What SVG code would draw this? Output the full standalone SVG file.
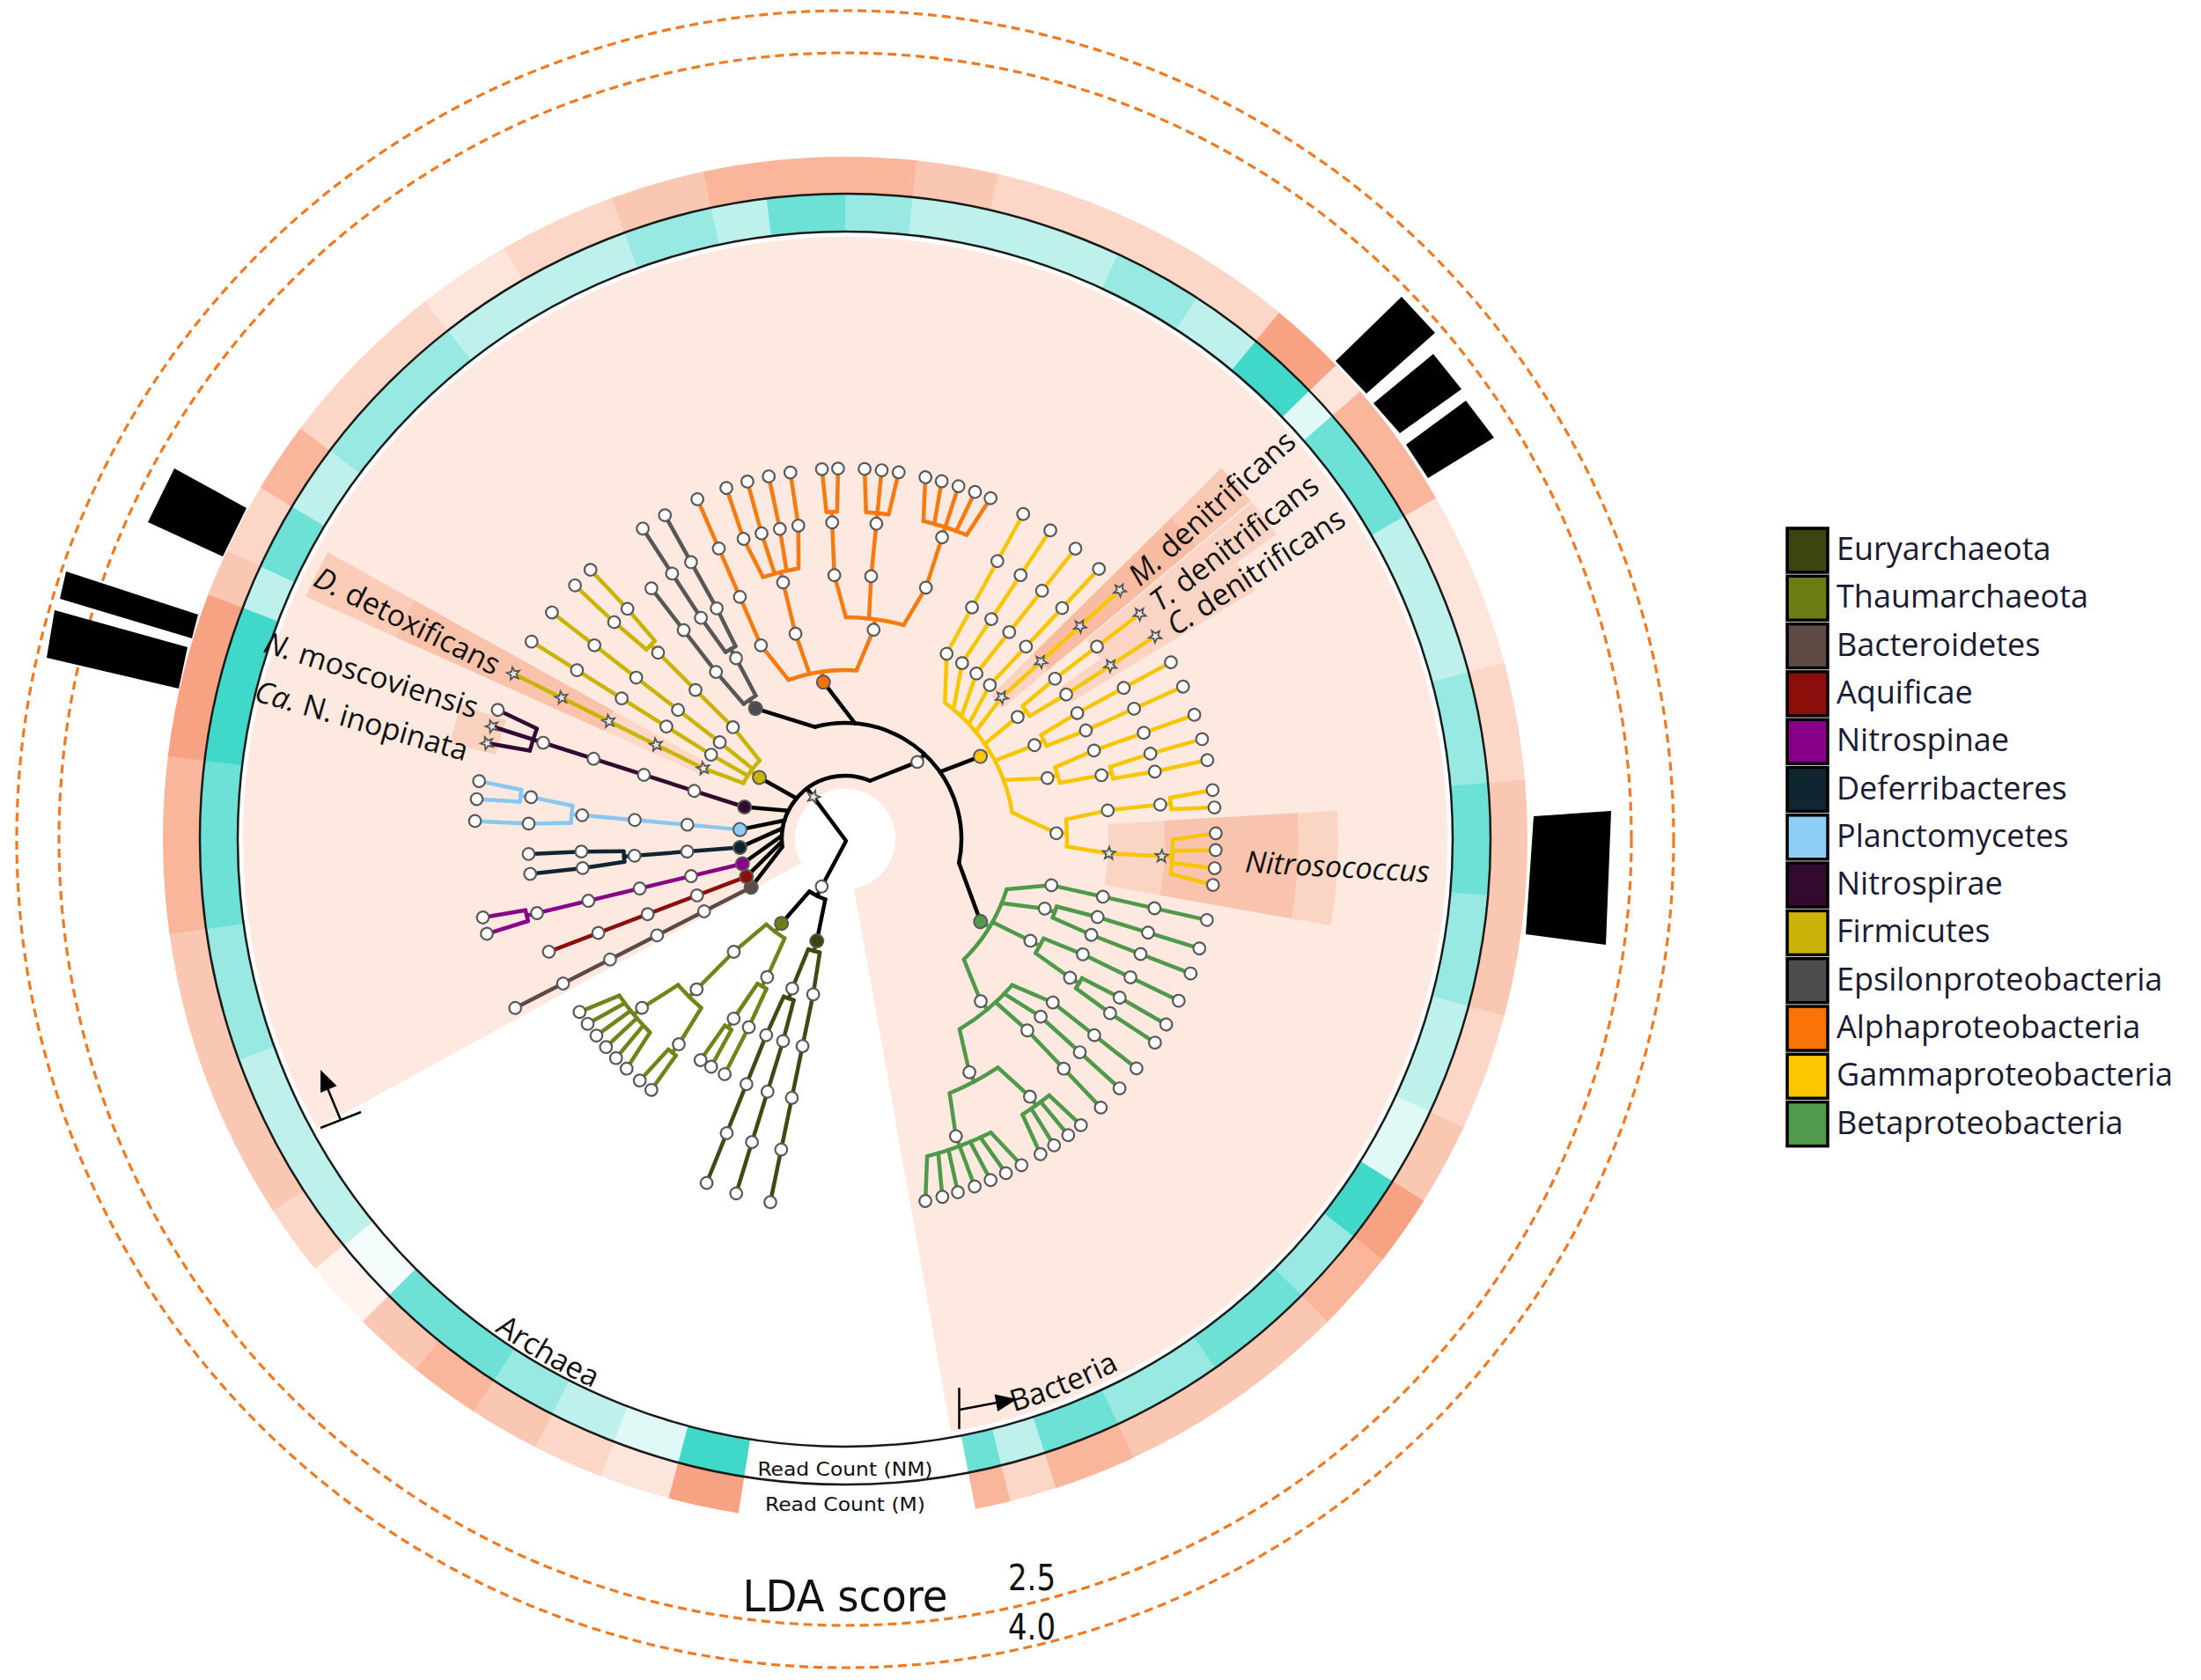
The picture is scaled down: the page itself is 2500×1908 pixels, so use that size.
<svg xmlns="http://www.w3.org/2000/svg" width="2500" height="1908" viewBox="0 0 2500 1908">
<style>
.lb{font-family:"Open Sans","Liberation Sans",sans-serif;font-size:34px;fill:#111}
.lg{font-family:"Open Sans","Liberation Sans",sans-serif;font-size:36px;fill:#1a1a33}
.dv{font-family:"DejaVu Sans Condensed","DejaVu Sans",sans-serif;fill:#111}
.rt{fill:none;stroke-width:43}
.rs{fill:none;stroke-width:42}
.cn{stroke:#595959;stroke-width:2}
.dash{fill:none;stroke:#f07a22;stroke-width:3.2;stroke-dasharray:10 6}
</style>
<defs>
<circle id="w" r="6.8" fill="#fff" stroke="#595959" stroke-width="2.2"/>
<path id="st" d="M0,-7.5L1.88,-2.59L7.13,-2.32L3.04,0.99L4.41,6.07L0,3.2L-4.41,6.07L-3.04,0.99L-7.13,-2.32L-1.88,-2.59Z" fill="#e6e6e6" stroke="#555" stroke-width="1.8"/>
<path id="pA" d="M-485.1,485.1A686,686 0 0 0 -119.1,675.6"/>
<path id="pB" d="M117.7,667.7A678,678 0 0 0 435.8,519.4"/>
</defs>
<rect width="2500" height="1908" fill="#fff"/>

<g id="background" transform="translate(960 953)">
<circle r="370.5" fill="none" stroke="#fde9e0" stroke-width="627" pathLength="360" stroke-dasharray="288.6 400" transform="rotate(151.3)"/>
<g id="highlights" fill="none">
<circle r="237.5" stroke="#fcd8c8" stroke-width="125" pathLength="360" stroke-dasharray="4.8 400" transform="rotate(204.2)"/>
<circle r="430" stroke="#f9c2aa" stroke-width="260" pathLength="360" stroke-dasharray="4.8 400" transform="rotate(204.2)"/>
<circle r="616" stroke="#fbcdb9" stroke-width="112" pathLength="360" stroke-dasharray="4.8 400" transform="rotate(204.2)"/>
<circle r="435" stroke="#fad0be" stroke-width="54" pathLength="360" stroke-dasharray="5.7 400" transform="rotate(193.6)"/>
<circle r="266" stroke="#fbd3c2" stroke-width="68" pathLength="360" stroke-dasharray="4.8 400" transform="rotate(315.4)"/>
<circle r="410" stroke="#f8bca2" stroke-width="220" pathLength="360" stroke-dasharray="4.8 400" transform="rotate(315.4)"/>
<circle r="560" stroke="#fac9b4" stroke-width="80" pathLength="360" stroke-dasharray="4.8 400" transform="rotate(315.4)"/>
<circle r="477.5" stroke="#fad5c5" stroke-width="245" pathLength="360" stroke-dasharray="4.4 400" transform="rotate(320.4)"/>
<circle r="422.5" stroke="#fad5c5" stroke-width="245" pathLength="360" stroke-dasharray="4 400" transform="rotate(324.8)"/>
<circle r="331" stroke="#fbd5c4" stroke-width="64" pathLength="360" stroke-dasharray="13.4 400" transform="rotate(356.7)"/>
<circle r="439" stroke="#f8c4ad" stroke-width="152" pathLength="360" stroke-dasharray="13.4 400" transform="rotate(356.7)"/>
<circle r="537.5" stroke="#fbd5c4" stroke-width="45" pathLength="360" stroke-dasharray="13.4 400" transform="rotate(356.7)"/>
</g>
</g>

<g id="ring-nm" transform="translate(960 953)">
<circle class="rt" r="711.5" pathLength="360" stroke="#40d8c8" stroke-dasharray="6.15 400" transform="rotate(99)"/>
<circle class="rt" r="711.5" pathLength="360" stroke="#e0f9f6" stroke-dasharray="6.15 400" transform="rotate(105)"/>
<circle class="rt" r="711.5" pathLength="360" stroke="#bff1ec" stroke-dasharray="6.15 400" transform="rotate(111)"/>
<circle class="rt" r="711.5" pathLength="360" stroke="#97e9e1" stroke-dasharray="6.15 400" transform="rotate(117)"/>
<circle class="rt" r="711.5" pathLength="360" stroke="#6de1d5" stroke-dasharray="12.15 400" transform="rotate(123)"/>
<circle class="rt" r="711.5" pathLength="360" stroke="#f4fcfb" stroke-dasharray="6.15 400" transform="rotate(135)"/>
<circle class="rt" r="711.5" pathLength="360" stroke="#bff1ec" stroke-dasharray="19.15 400" transform="rotate(141)"/>
<circle class="rt" r="711.5" pathLength="360" stroke="#97e9e1" stroke-dasharray="12.15 400" transform="rotate(160)"/>
<circle class="rt" r="711.5" pathLength="360" stroke="#6de1d5" stroke-dasharray="15.15 400" transform="rotate(172)"/>
<circle class="rt" r="711.5" pathLength="360" stroke="#40d8c8" stroke-dasharray="14.15 400" transform="rotate(187)"/>
<circle class="rt" r="711.5" pathLength="360" stroke="#bff1ec" stroke-dasharray="4.15 400" transform="rotate(201)"/>
<circle class="rt" r="711.5" pathLength="360" stroke="#6de1d5" stroke-dasharray="6.15 400" transform="rotate(205)"/>
<circle class="rt" r="711.5" pathLength="360" stroke="#bff1ec" stroke-dasharray="6.15 400" transform="rotate(211)"/>
<circle class="rt" r="711.5" pathLength="360" stroke="#97e9e1" stroke-dasharray="15.15 400" transform="rotate(217)"/>
<circle class="rt" r="711.5" pathLength="360" stroke="#bff1ec" stroke-dasharray="18.15 400" transform="rotate(232)"/>
<circle class="rt" r="711.5" pathLength="360" stroke="#97e9e1" stroke-dasharray="8.15 400" transform="rotate(250)"/>
<circle class="rt" r="711.5" pathLength="360" stroke="#bff1ec" stroke-dasharray="5.15 400" transform="rotate(258)"/>
<circle class="rt" r="711.5" pathLength="360" stroke="#6de1d5" stroke-dasharray="7.15 400" transform="rotate(263)"/>
<circle class="rt" r="711.5" pathLength="360" stroke="#97e9e1" stroke-dasharray="6.15 400" transform="rotate(270)"/>
<circle class="rt" r="711.5" pathLength="360" stroke="#bff1ec" stroke-dasharray="19.15 400" transform="rotate(276)"/>
<circle class="rt" r="711.5" pathLength="360" stroke="#97e9e1" stroke-dasharray="8.15 400" transform="rotate(295)"/>
<circle class="rt" r="711.5" pathLength="360" stroke="#bff1ec" stroke-dasharray="6.65 400" transform="rotate(303)"/>
<circle class="rt" r="711.5" pathLength="360" stroke="#40d8c8" stroke-dasharray="6.65 400" transform="rotate(309.5)"/>
<circle class="rt" r="711.5" pathLength="360" stroke="#e0f9f6" stroke-dasharray="3.15 400" transform="rotate(316)"/>
<circle class="rt" r="711.5" pathLength="360" stroke="#6de1d5" stroke-dasharray="11.15 400" transform="rotate(319)"/>
<circle class="rt" r="711.5" pathLength="360" stroke="#bff1ec" stroke-dasharray="15.15 400" transform="rotate(330)"/>
<circle class="rt" r="711.5" pathLength="360" stroke="#97e9e1" stroke-dasharray="10.15 400" transform="rotate(345)"/>
<circle class="rt" r="711.5" pathLength="360" stroke="#6de1d5" stroke-dasharray="10.15 400" transform="rotate(355)"/>
<circle class="rt" r="711.5" pathLength="360" stroke="#97e9e1" stroke-dasharray="10.15 400" transform="rotate(5)"/>
<circle class="rt" r="711.5" pathLength="360" stroke="#bff1ec" stroke-dasharray="10.15 400" transform="rotate(15)"/>
<circle class="rt" r="711.5" pathLength="360" stroke="#e0f9f6" stroke-dasharray="7.15 400" transform="rotate(25)"/>
<circle class="rt" r="711.5" pathLength="360" stroke="#40d8c8" stroke-dasharray="6.15 400" transform="rotate(32)"/>
<circle class="rt" r="711.5" pathLength="360" stroke="#97e9e1" stroke-dasharray="7.15 400" transform="rotate(38)"/>
<circle class="rt" r="711.5" pathLength="360" stroke="#6de1d5" stroke-dasharray="10.15 400" transform="rotate(45)"/>
<circle class="rt" r="711.5" pathLength="360" stroke="#97e9e1" stroke-dasharray="10.15 400" transform="rotate(55)"/>
<circle class="rt" r="711.5" pathLength="360" stroke="#6de1d5" stroke-dasharray="7.15 400" transform="rotate(65)"/>
<circle class="rt" r="711.5" pathLength="360" stroke="#bff1ec" stroke-dasharray="4.15 400" transform="rotate(72)"/>
<circle class="rt" r="711.5" pathLength="360" stroke="#6de1d5" stroke-dasharray="3 400" transform="rotate(76)"/>
</g>

<g id="ring-m" transform="translate(960 953)">
<circle class="rs" r="754" pathLength="360" stroke="#f7a283" stroke-dasharray="6.15 400" transform="rotate(99)"/>
<circle class="rs" r="754" pathLength="360" stroke="#fde5dc" stroke-dasharray="6.15 400" transform="rotate(105)"/>
<circle class="rs" r="754" pathLength="360" stroke="#fcd6c7" stroke-dasharray="6.15 400" transform="rotate(111)"/>
<circle class="rs" r="754" pathLength="360" stroke="#fac7b2" stroke-dasharray="6.15 400" transform="rotate(117)"/>
<circle class="rs" r="754" pathLength="360" stroke="#f9b69b" stroke-dasharray="6.15 400" transform="rotate(123)"/>
<circle class="rs" r="754" pathLength="360" stroke="#fac7b2" stroke-dasharray="6.15 400" transform="rotate(129)"/>
<circle class="rs" r="754" pathLength="360" stroke="#fef3ee" stroke-dasharray="6.15 400" transform="rotate(135)"/>
<circle class="rs" r="754" pathLength="360" stroke="#fcd6c7" stroke-dasharray="6.15 400" transform="rotate(141)"/>
<circle class="rs" r="754" pathLength="360" stroke="#fac7b2" stroke-dasharray="25.15 400" transform="rotate(147)"/>
<circle class="rs" r="754" pathLength="360" stroke="#f9b69b" stroke-dasharray="15.15 400" transform="rotate(172)"/>
<circle class="rs" r="754" pathLength="360" stroke="#f7a283" stroke-dasharray="14.15 400" transform="rotate(187)"/>
<circle class="rs" r="754" pathLength="360" stroke="#fac7b2" stroke-dasharray="4.15 400" transform="rotate(201)"/>
<circle class="rs" r="754" pathLength="360" stroke="#fcd6c7" stroke-dasharray="6.15 400" transform="rotate(205)"/>
<circle class="rs" r="754" pathLength="360" stroke="#f9b69b" stroke-dasharray="6.15 400" transform="rotate(211)"/>
<circle class="rs" r="754" pathLength="360" stroke="#fcd6c7" stroke-dasharray="15.15 400" transform="rotate(217)"/>
<circle class="rs" r="754" pathLength="360" stroke="#fde5dc" stroke-dasharray="8.15 400" transform="rotate(232)"/>
<circle class="rs" r="754" pathLength="360" stroke="#fcd6c7" stroke-dasharray="10.15 400" transform="rotate(240)"/>
<circle class="rs" r="754" pathLength="360" stroke="#fac7b2" stroke-dasharray="8.15 400" transform="rotate(250)"/>
<circle class="rs" r="754" pathLength="360" stroke="#f9b69b" stroke-dasharray="18.15 400" transform="rotate(258)"/>
<circle class="rs" r="754" pathLength="360" stroke="#fac7b2" stroke-dasharray="7.15 400" transform="rotate(276)"/>
<circle class="rs" r="754" pathLength="360" stroke="#fcd6c7" stroke-dasharray="26.65 400" transform="rotate(283)"/>
<circle class="rs" r="754" pathLength="360" stroke="#f7a283" stroke-dasharray="6.65 400" transform="rotate(309.5)"/>
<circle class="rs" r="754" pathLength="360" stroke="#fde5dc" stroke-dasharray="3.15 400" transform="rotate(316)"/>
<circle class="rs" r="754" pathLength="360" stroke="#f9b69b" stroke-dasharray="11.15 400" transform="rotate(319)"/>
<circle class="rs" r="754" pathLength="360" stroke="#fde5dc" stroke-dasharray="15.15 400" transform="rotate(330)"/>
<circle class="rs" r="754" pathLength="360" stroke="#fcd6c7" stroke-dasharray="10.15 400" transform="rotate(345)"/>
<circle class="rs" r="754" pathLength="360" stroke="#fac7b2" stroke-dasharray="20.15 400" transform="rotate(355)"/>
<circle class="rs" r="754" pathLength="360" stroke="#fcd6c7" stroke-dasharray="10.15 400" transform="rotate(15)"/>
<circle class="rs" r="754" pathLength="360" stroke="#fac7b2" stroke-dasharray="7.15 400" transform="rotate(25)"/>
<circle class="rs" r="754" pathLength="360" stroke="#f7a283" stroke-dasharray="6.15 400" transform="rotate(32)"/>
<circle class="rs" r="754" pathLength="360" stroke="#f9b69b" stroke-dasharray="7.15 400" transform="rotate(38)"/>
<circle class="rs" r="754" pathLength="360" stroke="#fac7b2" stroke-dasharray="20.15 400" transform="rotate(45)"/>
<circle class="rs" r="754" pathLength="360" stroke="#f9b69b" stroke-dasharray="7.15 400" transform="rotate(65)"/>
<circle class="rs" r="754" pathLength="360" stroke="#fcd6c7" stroke-dasharray="4.15 400" transform="rotate(72)"/>
<circle class="rs" r="754" pathLength="360" stroke="#f9b69b" stroke-dasharray="3 400" transform="rotate(76)"/>
</g>

<g id="ring-lines" transform="translate(960 953)" fill="none" stroke="#1a1a1a" stroke-width="2.5">
<circle r="690"/>
<circle r="733"/>
</g>

<g id="lda-circles" transform="translate(960 953)">
<circle class="dash" r="893"/>
<circle class="dash" r="941"/>
</g>

<g id="lda-bars" fill="#000">
<polygon points="198,532 280,577 253,632 168,593"/>
<polygon points="75,649 225,698 218,725 68,680"/>
<polygon points="62,693 213,735 203,782 53,747"/>
<polygon points="1592,337 1630,378 1552,447 1517,410"/>
<polygon points="1628,402 1660,442 1590,492 1560,458"/>
<polygon points="1665,455 1697,497 1622,543 1597,505"/>
<polygon points="1742,927 1830,921 1824,1073 1733,1061"/>
</g>

<g id="connectors" transform="translate(960 953)" fill="none" stroke-width="4.5" stroke-linecap="round" stroke-linejoin="round">
<g stroke="#000">
<path d="M-36.1,-47.9L1,2L-26.6,53.8"/>
<path transform="rotate(233)" d="M60,0H72"/>
<circle r="72" pathLength="360" stroke-dasharray="120.15 400" transform="rotate(172.925)"/>
<path transform="rotate(152.9)" d="M67.65,24.65L120,0"/>
<path transform="rotate(159.2)" d="M68.3,22.79L120,0"/>
<path transform="rotate(166.5)" d="M68.99,20.6L120,0"/>
<path transform="rotate(175.5)" d="M69.75,17.88L120,0"/>
<path transform="rotate(185.2)" d="M70.44,14.91L120,0"/>
<path transform="rotate(197.7)" d="M71.15,11.05L120,0"/>
<path transform="rotate(215.7)" d="M71.8,5.43L120,0"/>
<path transform="rotate(313.1)" d="M67.65,-24.65L120,0"/>
<path transform="rotate(116.34)" d="M60,0H72"/>
<circle r="72" pathLength="360" stroke-dasharray="16.125 400" transform="rotate(108.28)"/>
<path transform="rotate(105.59)" d="M71.92,3.38L120,0"/>
<path transform="rotate(127.09)" d="M71.92,-3.38L120,0"/>
<path transform="rotate(313.1)" d="M120,0H132"/>
<circle r="132" pathLength="360" stroke-dasharray="116.84 400" transform="rotate(254.94)"/>
<path transform="rotate(235.55)" d="M124.5,43.8L180,0"/>
<path transform="rotate(262.11)" d="M128.7,29.1L180,0"/>
<path transform="rotate(328.55)" d="M131.7,-8.9L180,0"/>
<path transform="rotate(31.34)" d="M124.4,-44.2L180,0"/>
</g>
<g stroke="#c9b400">
<path transform="rotate(215.7)" d="M120,0H132"/>
<circle r="132" pathLength="360" stroke-dasharray="13.8 400" transform="rotate(208.8)"/>
<path transform="rotate(206.5)" d="M131.9,5.3L180,0L421,0"/>
<path transform="rotate(212.2)" d="M132,2.02L180,0L421,0"/>
<path transform="rotate(217.7)" d="M132,-1.15L180,0L421,0"/>
<path transform="rotate(224.9)" d="M131.9,-5.3L180,0L312,0"/>
<circle r="312" pathLength="360" stroke-dasharray="2.55 400" transform="rotate(223.63)"/>
<path transform="rotate(223.2)" d="M312,2.31L360,0L421,0"/>
<path transform="rotate(226.6)" d="M312,-2.31L360,0L421,0"/>
</g>
<g stroke="#320a30">
<path transform="rotate(197.7)" d="M120,0H421"/>
<circle r="372" pathLength="360" stroke-dasharray="4.05 400" transform="rotate(195.675)"/>
<path transform="rotate(200.4)" d="M372,-4.38L421,0"/>
<path transform="rotate(195)" d="M372,4.38L421,0"/>
</g>
<g stroke="#88c8f0">
<path transform="rotate(185.2)" d="M120,0H312"/>
<circle r="312" pathLength="360" stroke-dasharray="3.6 400" transform="rotate(183.4)"/>
<path transform="rotate(182.8)" d="M312,3.27L360,0L421,0"/>
<path transform="rotate(187.6)" d="M312,-3.27L360,0L372,0"/>
<circle r="372" pathLength="360" stroke-dasharray="2.1 400" transform="rotate(186.55)"/>
<path transform="rotate(186.2)" d="M372,2.27L421,0"/>
<path transform="rotate(189)" d="M372,-2.27L421,0"/>
</g>
<g stroke="#0f2630">
<path transform="rotate(175.5)" d="M120,0H252"/>
<circle r="252" pathLength="360" stroke-dasharray="2.7 400" transform="rotate(174.15)"/>
<path transform="rotate(173.7)" d="M252,1.98L300,0L360,0"/>
<path transform="rotate(177.3)" d="M252,-1.98L300,0L360,0"/>
</g>
<g stroke="#870087">
<path transform="rotate(166.5)" d="M120,0H372"/>
<circle r="372" pathLength="360" stroke-dasharray="1.95 400" transform="rotate(165.525)"/>
<path transform="rotate(165.2)" d="M372,2.11L421,0"/>
<path transform="rotate(167.8)" d="M372,-2.11L421,0"/>
</g>
<g stroke="#8b0e0a"><path transform="rotate(159.2)" d="M120,0H360"/></g>
<g stroke="#5e4a45"><path transform="rotate(152.9)" d="M120,0H421"/></g>
<g stroke="#575757">
<path transform="rotate(235.55)" d="M180,0H192"/>
<circle r="192" pathLength="360" stroke-dasharray="4.95 400" transform="rotate(233.11)"/>
<path transform="rotate(232.3)" d="M192,2.72L240,0L360,0"/>
<path transform="rotate(238.9)" d="M192,-2.81L240,0L252,0"/>
<circle r="252" pathLength="360" stroke-dasharray="3 400" transform="rotate(237.4)"/>
<path transform="rotate(236.9)" d="M252,2.2L300,0L421,0"/>
<path transform="rotate(240.9)" d="M252,-2.2L300,0L421,0"/>
</g>
<g stroke="#f57a10">
<path transform="rotate(262.11)" d="M180,0H192"/>
<circle r="192" pathLength="360" stroke-dasharray="23.42 400" transform="rotate(250.4)"/>
<path transform="rotate(246.5)" d="M191.55,13.07L240,0L421,0"/>
<path transform="rotate(256.4)" d="M191.94,4.78L240,0L312,0"/>
<circle r="312" pathLength="360" stroke-dasharray="7.65 400" transform="rotate(252.575)"/>
<path transform="rotate(251.3)" d="M311.9,6.94L360,0L421,0"/>
<path transform="rotate(254.7)" d="M312,2.31L360,0L421,0"/>
<path transform="rotate(258.1)" d="M312,-2.31L360,0L421,0"/>
<path transform="rotate(261.5)" d="M311.9,-6.94L360,0L421,0"/>
<path transform="rotate(277.725)" d="M191.55,-13.07L240,0L252,0"/>
<circle r="252" pathLength="360" stroke-dasharray="15.11 400" transform="rotate(270.17)"/>
<path transform="rotate(267.65)" d="M251.76,11.08L300,0L372,0"/>
<circle r="372" pathLength="360" stroke-dasharray="1.875 400" transform="rotate(266.71)"/>
<path transform="rotate(266.4)" d="M372,2.03L421,0"/>
<path transform="rotate(268.9)" d="M372,-2.03L421,0"/>
<path transform="rotate(275.65)" d="M252,2.28L300,0L421,0"/>
<circle r="372" pathLength="360" stroke-dasharray="3.975 400" transform="rotate(273.66)"/>
<path transform="rotate(273)" d="M372,4.3L421,0"/>
<path transform="rotate(278.3)" d="M372,-4.3L421,0"/>
<path transform="rotate(287.8)" d="M251.76,-11.08L300,0L421,0"/>
<circle r="372" pathLength="360" stroke-dasharray="7.95 400" transform="rotate(283.825)"/>
<path transform="rotate(282.5)" d="M371.9,8.6L421,0"/>
<path transform="rotate(285.1)" d="M372,4.38L421,0"/>
<path transform="rotate(290.5)" d="M372,-4.38L421,0"/>
<path transform="rotate(293.1)" d="M371.9,-8.6L421,0"/>
</g>
<g stroke="#f7c600">
<path transform="rotate(328.55)" d="M180,0H192"/>
<circle r="192" pathLength="360" stroke-dasharray="44.78 400" transform="rotate(306.16)"/>
<path transform="rotate(298.7)" d="M190.4,24.94L240,0L421,0"/>
<path transform="rotate(303.6)" d="M190.9,20.87L240,0L421,0"/>
<path transform="rotate(308.4)" d="M191.3,16.86L240,0L421,0"/>
<path transform="rotate(313.2)" d="M191.6,12.85L240,0L421,0"/>
<path transform="rotate(317.8)" d="M191.8,9L240,0L421,0"/>
<path transform="rotate(324.7)" d="M192,3.23L240,0L252,0"/>
<circle r="252" pathLength="360" stroke-dasharray="3.15 400" transform="rotate(323.125)"/>
<path transform="rotate(322.6)" d="M252,2.31L300,0L421,0"/>
<path transform="rotate(326.8)" d="M252,-2.31L300,0L421,0"/>
<path transform="rotate(333.6)" d="M191.95,-4.23L240,0L252,0"/>
<circle r="252" pathLength="360" stroke-dasharray="3.15 400" transform="rotate(332.025)"/>
<path transform="rotate(331.5)" d="M252,2.31L300,0L421,0"/>
<path transform="rotate(335.7)" d="M252,-2.31L300,0L421,0"/>
<path transform="rotate(343.2)" d="M191.6,-12.27L240,0L252,0"/>
<circle r="252" pathLength="360" stroke-dasharray="4.2 400" transform="rotate(341.1)"/>
<path transform="rotate(340.4)" d="M252,3.08L300,0L421,0"/>
<path transform="rotate(346)" d="M252,-3.08L300,0L312,0"/>
<circle r="312" pathLength="360" stroke-dasharray="2.51 400" transform="rotate(344.76)"/>
<path transform="rotate(344.35)" d="M312,2.25L360,0L421,0"/>
<path transform="rotate(347.7)" d="M312,-2.31L360,0L421,0"/>
<path transform="rotate(358.4)" d="M190.4,-24.94L240,0L252,0"/>
<circle r="252" pathLength="360" stroke-dasharray="7.01 400" transform="rotate(354.91)"/>
<path transform="rotate(353.75)" d="M251.95,5.11L300,0L372,0"/>
<circle r="372" pathLength="360" stroke-dasharray="2.02 400" transform="rotate(352.74)"/>
<path transform="rotate(352.4)" d="M372,2.19L421,0"/>
<path transform="rotate(355.1)" d="M372,-2.19L421,0"/>
<path transform="rotate(3.1)" d="M251.95,-5.17L300,0L372,0"/>
<circle r="372" pathLength="360" stroke-dasharray="6 400" transform="rotate(0.1)"/>
<path transform="rotate(359.1)" d="M371.9,6.49L421,0"/>
<path transform="rotate(1.7)" d="M372,2.27L421,0"/>
<path transform="rotate(4.5)" d="M372,-2.27L421,0"/>
<path transform="rotate(7.1)" d="M371.9,-6.49L421,0"/>
</g>
<g stroke="#4f9a4a">
<path transform="rotate(31.34)" d="M180,0H192"/>
<circle r="192" pathLength="360" stroke-dasharray="28.11 400" transform="rotate(17.285)"/>
<path transform="rotate(12.6)" d="M191.4,15.68L240,0L421,0"/>
<path transform="rotate(19.2)" d="M191.7,10.17L240,0L252,0"/>
<circle r="252" pathLength="360" stroke-dasharray="3.075 400" transform="rotate(17.66)"/>
<path transform="rotate(17.15)" d="M252,2.25L300,0L421,0"/>
<path transform="rotate(21.25)" d="M252,-2.25L300,0L421,0"/>
<path transform="rotate(28.75)" d="M192,2.17L240,0L252,0"/>
<circle r="252" pathLength="360" stroke-dasharray="4.35 400" transform="rotate(26.575)"/>
<path transform="rotate(25.85)" d="M252,3.19L300,0L421,0"/>
<path transform="rotate(31.65)" d="M252,-3.19L300,0L312,0"/>
<circle r="312" pathLength="360" stroke-dasharray="2.475 400" transform="rotate(30.41)"/>
<path transform="rotate(30)" d="M312,2.25L360,0L421,0"/>
<path transform="rotate(33.3)" d="M312,-2.25L360,0L421,0"/>
<path transform="rotate(50.08)" d="M191.4,-15.68L240,0L252,0"/>
<circle r="252" pathLength="360" stroke-dasharray="17.81 400" transform="rotate(41.17)"/>
<path transform="rotate(38.2)" d="M251.7,13.06L300,0L421,0"/>
<path transform="rotate(42.25)" d="M251.85,8.61L300,0L421,0"/>
<path transform="rotate(46.4)" d="M252,4.05L300,0L421,0"/>
<path transform="rotate(61.95)" d="M251.7,-13.05L300,0L312,0"/>
<circle r="312" pathLength="360" stroke-dasharray="11.4 400" transform="rotate(56.25)"/>
<path transform="rotate(54.35)" d="M311.83,10.35L360,0L372,0"/>
<circle r="372" pathLength="360" stroke-dasharray="5.78 400" transform="rotate(51.46)"/>
<path transform="rotate(50.5)" d="M372,6.25L421,0"/>
<path transform="rotate(53)" d="M372,2.19L421,0"/>
<path transform="rotate(55.7)" d="M372,-2.19L421,0"/>
<path transform="rotate(58.2)" d="M372,-6.25L421,0"/>
<path transform="rotate(69.55)" d="M311.83,-10.35L360,0L421,0"/>
<circle r="372" pathLength="360" stroke-dasharray="11.92 400" transform="rotate(63.59)"/>
<path transform="rotate(61.6)" d="M371.8,12.9L421,0"/>
<path transform="rotate(64.3)" d="M372,8.52L421,0"/>
<path transform="rotate(66.9)" d="M372,4.3L421,0"/>
<path transform="rotate(72.3)" d="M372,-4.46L421,0"/>
<path transform="rotate(74.8)" d="M372,-8.52L421,0"/>
<path transform="rotate(77.5)" d="M371.8,-12.9L421,0"/>
</g>
<g stroke="#71841a">
<path transform="rotate(127.09)" d="M120,0H132"/>
<circle r="132" pathLength="360" stroke-dasharray="11.38 400" transform="rotate(121.4)"/>
<path transform="rotate(119.5)" d="M131.9,4.37L180,0L192,0"/>
<circle r="192" pathLength="360" stroke-dasharray="3.525 400" transform="rotate(117.74)"/>
<path transform="rotate(117.15)" d="M192,1.97L240,0L300,0"/>
<path transform="rotate(121.85)" d="M192,-1.97L240,0L252,0"/>
<circle r="252" pathLength="360" stroke-dasharray="2.025 400" transform="rotate(120.84)"/>
<path transform="rotate(120.5)" d="M252,1.48L300,0"/>
<path transform="rotate(123.2)" d="M252,-1.48L300,0"/>
<path transform="rotate(134.675)" d="M131.9,-4.37L180,0L252,0"/>
<circle r="252" pathLength="360" stroke-dasharray="8.43 400" transform="rotate(130.46)"/>
<path transform="rotate(129.05)" d="M251.9,6.18L300,0L312,0"/>
<circle r="312" pathLength="360" stroke-dasharray="2.025 400" transform="rotate(128.04)"/>
<path transform="rotate(127.7)" d="M312,1.84L360,0"/>
<path transform="rotate(130.4)" d="M312,-1.84L360,0"/>
<path transform="rotate(140.3)" d="M251.9,-6.18L300,0L312,0"/>
<circle r="312" pathLength="360" stroke-dasharray="10.01 400" transform="rotate(135.275)"/>
<path transform="rotate(133.6)" d="M311.87,9.12L360,0"/>
<path transform="rotate(136.3)" d="M312,5.44L360,0"/>
<path transform="rotate(139)" d="M312,1.77L360,0"/>
<path transform="rotate(141.7)" d="M312,-1.91L360,0"/>
<path transform="rotate(144.35)" d="M312,-5.51L360,0"/>
<path transform="rotate(146.95)" d="M311.87,-9.05L360,0"/>
</g>
<g stroke="#3d4a12">
<path transform="rotate(105.59)" d="M120,0H132"/>
<circle r="132" pathLength="360" stroke-dasharray="5.905 400" transform="rotate(102.635)"/>
<path transform="rotate(101.65)" d="M132,2.27L180,0L421,0"/>
<path transform="rotate(109.525)" d="M132,-2.27L180,0L192,0"/>
<circle r="192" pathLength="360" stroke-dasharray="3.6375 400" transform="rotate(107.71)"/>
<path transform="rotate(107.1)" d="M192,2.03L240,0L421,0"/>
<path transform="rotate(111.95)" d="M192,-2.03L240,0L421,0"/>
</g>
</g>

<g id="nodes" transform="translate(960 953)">
<g id="node-root">
<use href="#w" transform="rotate(116.34)" x="60"/>
<use href="#st" transform="rotate(233)" x="60"/>
<use href="#w" transform="rotate(313.1)" x="120"/>
</g>
<g id="node-phyla" class="cn">
<circle r="7.5" cx="120" fill="#5e4a45" transform="rotate(152.9)"/>
<circle r="7.5" cx="120" fill="#8b0e0a" transform="rotate(159.2)"/>
<circle r="7.5" cx="120" fill="#870087" transform="rotate(166.5)"/>
<circle r="7.5" cx="120" fill="#0f2630" transform="rotate(175.5)"/>
<circle r="7.5" cx="120" fill="#8ecdf5" transform="rotate(185.2)"/>
<circle r="7.5" cx="120" fill="#320a30" transform="rotate(197.7)"/>
<circle r="7.5" cx="120" fill="#c9b400" transform="rotate(215.7)"/>
<circle r="7.5" cx="120" fill="#6b7d14" transform="rotate(127.09)"/>
<circle r="7.5" cx="120" fill="#3a4510" transform="rotate(105.59)"/>
<circle r="7.5" cx="180" fill="#4d4d4d" transform="rotate(235.55)"/>
<circle r="7.5" cx="180" fill="#f97307" transform="rotate(262.11)"/>
<circle r="7.5" cx="180" fill="#fcc700" transform="rotate(328.55)"/>
<circle r="7.5" cx="180" fill="#519a4c" transform="rotate(31.34)"/>
</g>
<g id="node-bacteroidetes" transform="rotate(152.9)"><use href="#w" x="180"/><use href="#w" x="240"/><use href="#w" x="300"/><use href="#w" x="360"/><use href="#w" x="421"/></g>
<g id="node-aquificae" transform="rotate(159.2)"><use href="#w" x="180"/><use href="#w" x="240"/><use href="#w" x="300"/><use href="#w" x="360"/></g>
<g id="node-nitrospinae">
<g transform="rotate(166.5)"><use href="#w" x="180"/><use href="#w" x="240"/><use href="#w" x="300"/><use href="#w" x="360"/></g>
<use href="#w" transform="rotate(165.2)" x="421"/><use href="#w" transform="rotate(167.8)" x="421"/>
</g>
<g id="node-deferribacteres">
<g transform="rotate(175.5)"><use href="#w" x="180"/><use href="#w" x="240"/></g>
<g transform="rotate(173.7)"><use href="#w" x="300"/><use href="#w" x="360"/></g>
<g transform="rotate(177.3)"><use href="#w" x="300"/><use href="#w" x="360"/></g>
</g>
<g id="node-planctomycetes">
<g transform="rotate(185.2)"><use href="#w" x="180"/><use href="#w" x="240"/><use href="#w" x="300"/></g>
<g transform="rotate(182.8)"><use href="#w" x="360"/><use href="#w" x="421"/></g>
<use href="#w" transform="rotate(187.6)" x="360"/>
<use href="#w" transform="rotate(186.2)" x="421"/><use href="#w" transform="rotate(189)" x="421"/>
</g>
<g id="node-nitrospirae">
<g transform="rotate(197.7)"><use href="#w" x="180"/><use href="#w" x="240"/><use href="#w" x="300"/><use href="#w" x="360"/><use href="#st" x="421"/></g>
<use href="#w" transform="rotate(200.4)" x="421"/><use href="#st" transform="rotate(195)" x="421"/>
</g>
<g id="node-firmicutes">
<g transform="rotate(206.5)"><use href="#st" x="180"/><use href="#st" x="240"/><use href="#st" x="300"/><use href="#st" x="360"/><use href="#st" x="421"/></g>
<g transform="rotate(212.2)"><use href="#w" x="180"/><use href="#w" x="240"/><use href="#w" x="300"/><use href="#w" x="360"/><use href="#w" x="421"/></g>
<g transform="rotate(217.7)"><use href="#w" x="180"/><use href="#w" x="240"/><use href="#w" x="300"/><use href="#w" x="360"/><use href="#w" x="421"/></g>
<g transform="rotate(224.9)"><use href="#w" x="180"/><use href="#w" x="240"/><use href="#w" x="300"/></g>
<g transform="rotate(223.2)"><use href="#w" x="360"/><use href="#w" x="421"/></g>
<g transform="rotate(226.6)"><use href="#w" x="360"/><use href="#w" x="421"/></g>
</g>
<g id="node-epsilon">
<g transform="rotate(232.3)"><use href="#w" x="240"/><use href="#w" x="300"/><use href="#w" x="360"/></g>
<use href="#w" transform="rotate(238.9)" x="240"/>
<g transform="rotate(236.9)"><use href="#w" x="300"/><use href="#w" x="360"/><use href="#w" x="421"/></g>
<g transform="rotate(240.9)"><use href="#w" x="300"/><use href="#w" x="360"/><use href="#w" x="421"/></g>
</g>
<g id="node-alpha">
<g transform="rotate(246.5)"><use href="#w" x="240"/><use href="#w" x="300"/><use href="#w" x="360"/><use href="#w" x="421"/></g>
<g transform="rotate(256.4)"><use href="#w" x="240"/><use href="#w" x="300"/></g>
<g transform="rotate(251.3)"><use href="#w" x="360"/><use href="#w" x="421"/></g>
<g transform="rotate(254.7)"><use href="#w" x="360"/><use href="#w" x="421"/></g>
<g transform="rotate(258.1)"><use href="#w" x="360"/><use href="#w" x="421"/></g>
<g transform="rotate(261.5)"><use href="#w" x="360"/><use href="#w" x="421"/></g>
<use href="#w" transform="rotate(277.725)" x="240"/>
<g transform="rotate(267.65)"><use href="#w" x="300"/><use href="#w" x="360"/></g>
<use href="#w" transform="rotate(266.4)" x="421"/><use href="#w" transform="rotate(268.9)" x="421"/>
<g transform="rotate(275.65)"><use href="#w" x="300"/><use href="#w" x="360"/><use href="#w" x="421"/></g>
<use href="#w" transform="rotate(273)" x="421"/><use href="#w" transform="rotate(278.3)" x="421"/>
<g transform="rotate(287.8)"><use href="#w" x="300"/><use href="#w" x="360"/><use href="#w" x="421"/></g>
<use href="#w" transform="rotate(282.5)" x="421"/><use href="#w" transform="rotate(285.1)" x="421"/><use href="#w" transform="rotate(290.5)" x="421"/><use href="#w" transform="rotate(293.1)" x="421"/>
</g>
<g id="node-gamma">
<g transform="rotate(298.7)"><use href="#w" x="240"/><use href="#w" x="300"/><use href="#w" x="360"/><use href="#w" x="421"/></g>
<g transform="rotate(303.6)"><use href="#w" x="240"/><use href="#w" x="300"/><use href="#w" x="360"/><use href="#w" x="421"/></g>
<g transform="rotate(308.4)"><use href="#w" x="240"/><use href="#w" x="300"/><use href="#w" x="360"/><use href="#w" x="421"/></g>
<g transform="rotate(313.2)"><use href="#w" x="240"/><use href="#w" x="300"/><use href="#w" x="360"/><use href="#w" x="421"/></g>
<g transform="rotate(317.8)"><use href="#st" x="240"/><use href="#st" x="300"/><use href="#st" x="360"/><use href="#st" x="421"/></g>
<use href="#w" transform="rotate(324.7)" x="240"/>
<g transform="rotate(322.6)"><use href="#w" x="300"/><use href="#w" x="360"/><use href="#st" x="421"/></g>
<g transform="rotate(326.8)"><use href="#w" x="300"/><use href="#st" x="360"/><use href="#st" x="421"/></g>
<use href="#w" transform="rotate(333.6)" x="240"/>
<g transform="rotate(331.5)"><use href="#w" x="300"/><use href="#w" x="360"/><use href="#w" x="421"/></g>
<g transform="rotate(335.7)"><use href="#w" x="300"/><use href="#w" x="360"/><use href="#w" x="421"/></g>
<use href="#w" transform="rotate(343.2)" x="240"/>
<g transform="rotate(340.4)"><use href="#w" x="300"/><use href="#w" x="360"/><use href="#w" x="421"/></g>
<use href="#w" transform="rotate(346)" x="300"/>
<g transform="rotate(344.35)"><use href="#w" x="360"/><use href="#w" x="421"/></g>
<g transform="rotate(347.7)"><use href="#w" x="360"/><use href="#w" x="421"/></g>
<use href="#w" transform="rotate(358.4)" x="240"/>
<g transform="rotate(353.75)"><use href="#w" x="300"/><use href="#w" x="360"/></g>
<use href="#w" transform="rotate(352.4)" x="421"/><use href="#w" transform="rotate(355.1)" x="421"/>
<g transform="rotate(3.1)"><use href="#st" x="300"/><use href="#st" x="360"/></g>
<use href="#w" transform="rotate(359.1)" x="421"/><use href="#w" transform="rotate(1.7)" x="421"/><use href="#w" transform="rotate(4.5)" x="421"/><use href="#w" transform="rotate(7.1)" x="421"/>
</g>
<g id="node-beta">
<g transform="rotate(12.6)"><use href="#w" x="240"/><use href="#w" x="300"/><use href="#w" x="360"/><use href="#w" x="421"/></g>
<use href="#w" transform="rotate(19.2)" x="240"/>
<g transform="rotate(17.15)"><use href="#w" x="300"/><use href="#w" x="360"/><use href="#w" x="421"/></g>
<g transform="rotate(21.25)"><use href="#w" x="300"/><use href="#w" x="360"/><use href="#w" x="421"/></g>
<use href="#w" transform="rotate(28.75)" x="240"/>
<g transform="rotate(25.85)"><use href="#w" x="300"/><use href="#w" x="360"/><use href="#w" x="421"/></g>
<use href="#w" transform="rotate(31.65)" x="300"/>
<g transform="rotate(30)"><use href="#w" x="360"/><use href="#w" x="421"/></g>
<g transform="rotate(33.3)"><use href="#w" x="360"/><use href="#w" x="421"/></g>
<use href="#w" transform="rotate(50.08)" x="240"/>
<g transform="rotate(38.2)"><use href="#w" x="300"/><use href="#w" x="360"/><use href="#w" x="421"/></g>
<g transform="rotate(42.25)"><use href="#w" x="300"/><use href="#w" x="360"/><use href="#w" x="421"/></g>
<g transform="rotate(46.4)"><use href="#w" x="300"/><use href="#w" x="360"/><use href="#w" x="421"/></g>
<use href="#w" transform="rotate(61.95)" x="300"/>
<use href="#w" transform="rotate(54.35)" x="360"/>
<use href="#w" transform="rotate(50.5)" x="421"/><use href="#w" transform="rotate(53)" x="421"/><use href="#w" transform="rotate(55.7)" x="421"/><use href="#w" transform="rotate(58.2)" x="421"/>
<use href="#w" transform="rotate(69.55)" x="360"/>
<use href="#w" transform="rotate(61.6)" x="421"/><use href="#w" transform="rotate(64.3)" x="421"/><use href="#w" transform="rotate(66.9)" x="421"/><use href="#w" transform="rotate(69.55)" x="421"/><use href="#w" transform="rotate(72.3)" x="421"/><use href="#w" transform="rotate(74.8)" x="421"/><use href="#w" transform="rotate(77.5)" x="421"/>
</g>
<g id="node-thaumarchaeota">
<use href="#w" transform="rotate(119.5)" x="180"/>
<g transform="rotate(117.15)"><use href="#w" x="240"/><use href="#w" x="300"/></g>
<use href="#w" transform="rotate(121.85)" x="240"/>
<use href="#w" transform="rotate(120.5)" x="300"/><use href="#w" transform="rotate(123.2)" x="300"/>
<g transform="rotate(134.675)"><use href="#w" x="180"/><use href="#w" x="240"/></g>
<use href="#w" transform="rotate(129.05)" x="300"/>
<use href="#w" transform="rotate(127.7)" x="360"/><use href="#w" transform="rotate(130.4)" x="360"/>
<use href="#w" transform="rotate(140.3)" x="300"/>
<use href="#w" transform="rotate(133.6)" x="360"/><use href="#w" transform="rotate(136.3)" x="360"/><use href="#w" transform="rotate(139)" x="360"/><use href="#w" transform="rotate(141.7)" x="360"/><use href="#w" transform="rotate(144.35)" x="360"/><use href="#w" transform="rotate(146.95)" x="360"/>
</g>
<g id="node-euryarchaeota">
<g transform="rotate(101.65)"><use href="#w" x="180"/><use href="#w" x="240"/><use href="#w" x="300"/><use href="#w" x="360"/><use href="#w" x="421"/></g>
<use href="#w" transform="rotate(109.525)" x="180"/>
<g transform="rotate(107.1)"><use href="#w" x="240"/><use href="#w" x="300"/><use href="#w" x="360"/><use href="#w" x="421"/></g>
<g transform="rotate(111.95)"><use href="#w" x="240"/><use href="#w" x="300"/><use href="#w" x="360"/><use href="#w" x="421"/></g>
</g>
</g>

<g id="labels" transform="translate(960 953)">
<text class="lb" transform="rotate(26.5)" x="-440" y="12" text-anchor="end" font-size="35"><tspan font-style="italic">D.</tspan> detoxificans</text>
<text class="lb" transform="rotate(17.5)" x="-443" y="-4" text-anchor="end"><tspan font-style="italic">N.</tspan> moscoviensis</text>
<text class="lb" transform="rotate(16)" x="-440" y="34" text-anchor="end"><tspan font-style="italic">Ca.</tspan> N. inopinata</text>
<text class="lb" transform="rotate(317.8)" x="440" y="13" font-size="37"><tspan font-style="italic">M.</tspan> denitrificans</text>
<text class="lb" transform="rotate(322.6)" x="440" y="13" font-size="37"><tspan font-style="italic">T.</tspan> denitrificans</text>
<text class="lb" transform="rotate(326.8)" x="440" y="13" font-size="37"><tspan font-style="italic">C.</tspan> denitrificans</text>
<text class="lb" transform="rotate(3.1)" x="455" y="13" font-size="37" font-style="italic">Nitrosococcus</text>
<text class="lb" font-size="35"><textPath href="#pA" startOffset="178.4" text-anchor="middle">Archaea</textPath></text>
<text class="lb" font-size="35"><textPath href="#pB" startOffset="75.7">Bacteria</textPath></text>
</g>

<g id="markers" stroke="#000" stroke-width="2.5" fill="none">
<path d="M1089.5,1576V1623"/>
<path d="M1090,1601L1135,1592.5"/>
<path d="M364,1281L410,1263"/>
<path d="M387,1272L372,1236"/>
</g>
<g fill="#000">
<polygon points="1155,1589 1133.2,1603.1 1129.6,1583.5"/>
<polygon points="364,1215 382.5,1233.2 364.1,1241"/>
</g>

<g id="ring-labels">
<text class="dv" x="960" y="1676" font-size="22" text-anchor="middle" textLength="199" lengthAdjust="spacingAndGlyphs">Read Count (NM)</text>
<text class="dv" x="960" y="1716" font-size="22" text-anchor="middle" textLength="182" lengthAdjust="spacingAndGlyphs">Read Count (M)</text>
<text class="dv" x="960" y="1830" font-size="50" text-anchor="middle" textLength="233" lengthAdjust="spacingAndGlyphs">LDA score</text>
<text class="dv" x="1145" y="1806" font-size="40" textLength="54" lengthAdjust="spacingAndGlyphs">2.5</text>
<text class="dv" x="1145" y="1862" font-size="40" textLength="54" lengthAdjust="spacingAndGlyphs">4.0</text>
</g>

<g id="legend" stroke="#000" stroke-width="3.5">
<rect x="2030" y="600" width="46" height="50" fill="#3a4510"/>
<rect x="2030" y="654.3" width="46" height="50" fill="#6b7d14"/>
<rect x="2030" y="708.6" width="46" height="50" fill="#5e4a45"/>
<rect x="2030" y="762.9" width="46" height="50" fill="#8b0e0a"/>
<rect x="2030" y="817.2" width="46" height="50" fill="#870087"/>
<rect x="2030" y="871.5" width="46" height="50" fill="#0f2630"/>
<rect x="2030" y="925.8" width="46" height="50" fill="#8ecdf5"/>
<rect x="2030" y="980.1" width="46" height="50" fill="#320a30"/>
<rect x="2030" y="1034.4" width="46" height="50" fill="#cdb20a"/>
<rect x="2030" y="1088.7" width="46" height="50" fill="#4d4d4d"/>
<rect x="2030" y="1143" width="46" height="50" fill="#f97307"/>
<rect x="2030" y="1197.3" width="46" height="50" fill="#fcc700"/>
<rect x="2030" y="1251.6" width="46" height="50" fill="#519a4c"/>
</g>
<g id="legend-text">
<text class="lg" x="2086" y="636">Euryarchaeota</text>
<text class="lg" x="2086" y="690.3">Thaumarchaeota</text>
<text class="lg" x="2086" y="744.6">Bacteroidetes</text>
<text class="lg" x="2086" y="798.9">Aquificae</text>
<text class="lg" x="2086" y="853.2">Nitrospinae</text>
<text class="lg" x="2086" y="907.5">Deferribacteres</text>
<text class="lg" x="2086" y="961.8">Planctomycetes</text>
<text class="lg" x="2086" y="1016.1">Nitrospirae</text>
<text class="lg" x="2086" y="1070.4">Firmicutes</text>
<text class="lg" x="2086" y="1124.7">Epsilonproteobacteria</text>
<text class="lg" x="2086" y="1179">Alphaproteobacteria</text>
<text class="lg" x="2086" y="1233.3">Gammaproteobacteria</text>
<text class="lg" x="2086" y="1287.6">Betaproteobacteria</text>
</g>
</svg>
